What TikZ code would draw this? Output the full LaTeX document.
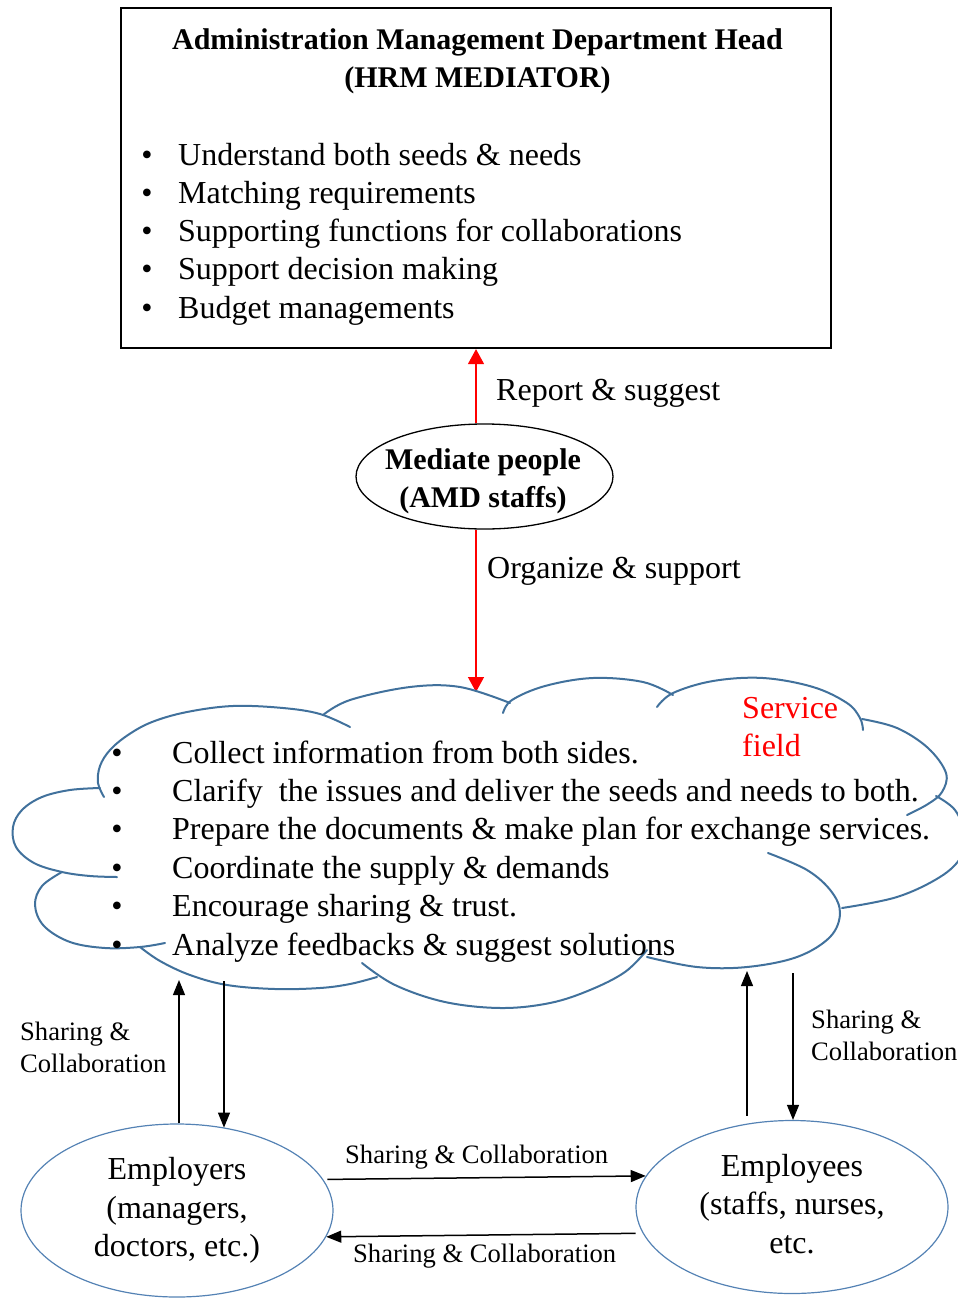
\documentclass[tikz,border=0pt]{standalone}
\usepackage{fontspec}
\setmainfont{Liberation Serif}
\usetikzlibrary{shapes.geometric,arrows.meta}
\definecolor{cloudblue}{RGB}{65,113,156}
\definecolor{ovalblue}{RGB}{84,130,180}
\begin{document}
\begin{tikzpicture}[x=1pt,y=-1pt,
  body/.style={font=\fontsize{32}{38.4}\selectfont},
  small/.style={font=\fontsize{26.6}{32}\selectfont},
  txt/.style={inner sep=0pt,anchor=base west},
  bul/.style={inner sep=0pt,anchor=base,body},
  titlefont/.style={inner sep=0pt,anchor=base,font=\bfseries\fontsize{30}{38}\selectfont},
  redline/.style={red,line width=1.3pt,-{Triangle[width=16pt,length=15pt]}},
  blackline/.style={black,line width=1.2pt,-{Triangle[width=12pt,length=15pt]}},
  bump/.style={cloudblue,line width=2pt,line cap=round},
  oval/.style={ellipse,draw=ovalblue,line width=1.2pt,inner sep=0pt,
    minimum width=312pt,minimum height=173pt,align=center,body}
]
\useasboundingbox (0,0) rectangle (958,1298);

% head of the department
\node[draw,line width=2.2pt,minimum width=710pt,minimum height=340pt,inner sep=0pt] (head) at (476,178) {};
\node[titlefont] (title1) at (477.5,50) {Administration Management Department Head};
\node[titlefont] (title2) at (477.5,88) {(HRM MEDIATOR)};
\foreach \t [count=\i] in {Understand both seeds \& needs,
                           Matching requirements,
                           Supporting functions for collaborations,
                           Support decision making,
                           Budget managements}{
  \node[bul] (hb\i) at (147,{165+38.3*(\i-1)}) {\textbullet};
  \node[txt,body] (ht\i) at (178,{165+38.3*(\i-1)}) {\t};
}

% mediators
\node[draw,ellipse,line width=1.3pt,minimum width=257pt,minimum height=105pt,inner sep=0pt] (mediate) at (484.5,476.5) {};
\node[titlefont] (mediate1) at (483,469) {Mediate people};
\node[titlefont] (mediate2) at (483,507) {(AMD staffs)};
\coordinate (rx) at (476,0);
\coordinate (cloudtop) at (476,692);
\draw[redline] (mediate.north -| rx) -- (head.south -| rx);
\draw[redline] (mediate.south -| rx) -- (cloudtop);
\node[txt,body] (report) at (496,400) {Report \& suggest};
\node[txt,body] (organize) at (487,578) {Organize \& support};

% service field cloud
\begin{scope}
\clip (0,0) rectangle (958,1298);
\draw[bump] plot[smooth,tension=0.6] coordinates {(104,797) (98,783) (100,766) (110,750) (128,735) (152,722) (187,712) (233,706) (283,708) (320,714) (350,727)};
\draw[bump] plot[smooth,tension=0.6] coordinates {(100,788) (70,790) (42,797) (22,810) (13,827) (16,847) (34,863) (62,872) (90,876) (117,877)};
\draw[bump] plot[smooth,tension=0.6] coordinates {(62,872) (42,886) (35,905) (44,926) (70,942) (105,948) (140,947) (165,943)};
\draw[bump] plot[smooth,tension=0.6] coordinates {(140,947) (160,961) (190,975) (227,985) (275,989) (320,988) (350,984) (377,977)};
\draw[bump] plot[smooth,tension=0.6] coordinates {(362,963) (395,985) (445,1002) (501,1008) (550,1003) (590,990) (625,972) (647,950)};
\draw[bump] plot[smooth,tension=0.6] coordinates {(768,853) (807,870) (831,891) (840,913) (830,937) (797,957) (747,967) (697,967) (647,957)};
\draw[bump] plot[smooth,tension=0.6] coordinates {(936,796) (955,810) (965,835) (961,857) (940,877) (897,897) (842,908)};
\draw[bump] plot[smooth,tension=0.6] coordinates {(862,719) (897,728) (928,748) (946,773) (942,792) (928,804) (907,815)};
\draw[bump] plot[smooth,tension=0.6] coordinates {(657,707) (673,693) (713,681) (763,678) (813,687) (847,703) (860,718) (863,730)};
\draw[bump] plot[smooth,tension=0.6] coordinates {(503,713) (512,700) (545,686) (593,678) (643,682) (673,695)};
\draw[bump] plot[smooth,tension=0.6] coordinates {(323,715) (350,700) (410,687) (460,687) (510,703)};
\end{scope}
\foreach \t [count=\i] in {Collect information from both sides.,
                           Clarify\ \ the issues and deliver the seeds and needs to both.,
                           Prepare the documents \& make plan for exchange services.,
                           Coordinate the supply \& demands,
                           Encourage sharing \& trust.,
                           Analyze feedbacks \& suggest solutions}{
  \node[bul] (cb\i) at (117,{763+38.4*(\i-1)}) {\textbullet};
  \node[txt,body] (ct\i) at (172,{763+38.4*(\i-1)}) {\t};
}
\node[txt,body,red] (service) at (742,718) {Service};
\node[txt,body,red] (field) at (742,756) {field};

% employers and employees
\node[oval] (employers) at (177,1210.5) {\strut Employers\\\strut(managers,\\\strut doctors, etc.)};
\node[oval] (employees) at (792,1207) {\strut Employees\\\strut(staffs, nurses,\\\strut etc.};

\coordinate (cl1) at (179,980);
\coordinate (cl2) at (224,981);
\coordinate (cr1) at (747,971);
\coordinate (cr2) at (793,973);
\draw[blackline] (employers.north -| cl1) -- (cl1);
\draw[blackline] (cl2) -- (cl2 |- employers.60);
\draw[blackline] ([yshift=8pt]cr1 |- employees.119) -- (cr1);
\draw[blackline] (cr2) -- (employees.north -| cr2);
\draw[blackline,line width=1.5pt] ([xshift=4pt]employers.12) -- (employees.168);
\draw[blackline,line width=1.5pt] ([xshift=-7pt]employees.190) -- (employers.-10);

\node[txt,small] (s1a) at (20,1040) {Sharing \&};
\node[txt,small] (s1b) at (20,1072) {Collaboration};
\node[txt,small] (s2a) at (811,1028) {Sharing \&};
\node[txt,small] (s2b) at (811,1060) {Collaboration};
\node[txt,small] (s3) at (345,1163) {Sharing \& Collaboration};
\node[txt,small] (s4) at (353,1262) {Sharing \& Collaboration};
\end{tikzpicture}
\end{document}
